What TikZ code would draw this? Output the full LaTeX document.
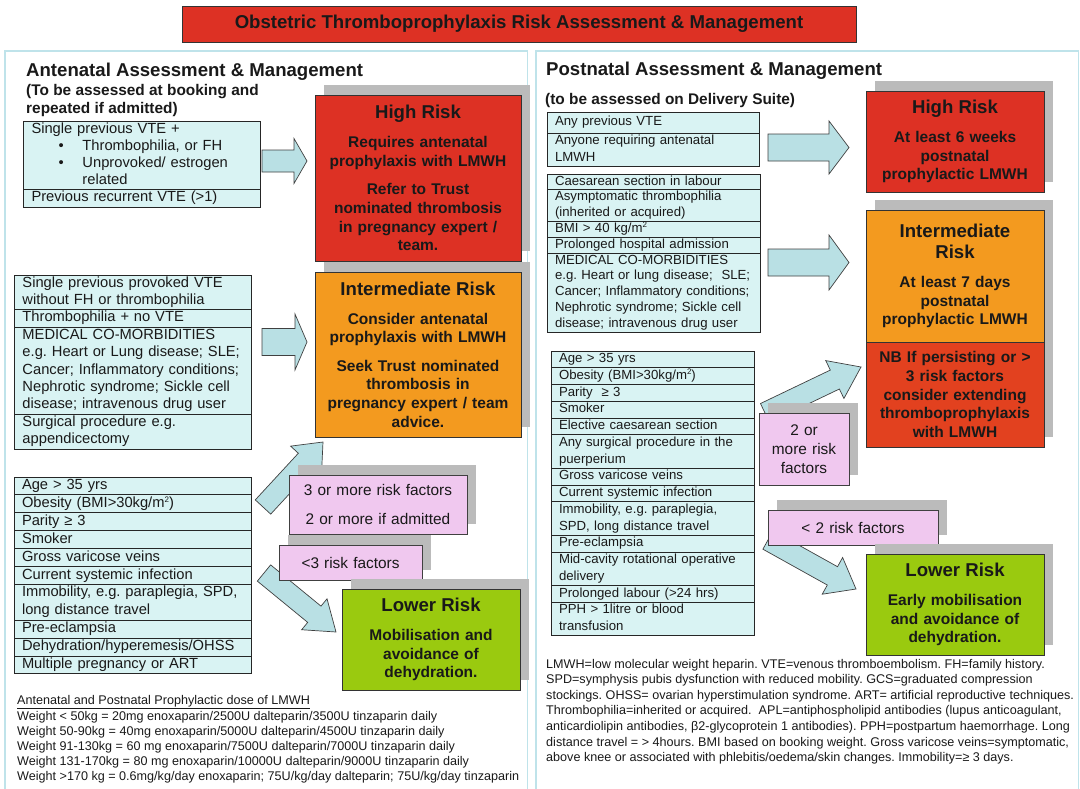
\documentclass[tikz,border=0pt]{standalone}
\usepackage{fontspec}
\setmainfont{Liberation Sans}
\usepackage{tikz}
\usetikzlibrary{positioning, calc, shadows}
\frenchspacing

\definecolor{riskred}{HTML}{DD3124}
\definecolor{riskorange}{HTML}{F39A1F}
\definecolor{nbred}{HTML}{E2411F}
\definecolor{riskgreen}{HTML}{9ACA0F}
\definecolor{pinkfill}{HTML}{F0C8EF}
\definecolor{critfill}{HTML}{D9F3F3}
\definecolor{arrowfill}{HTML}{B9E0E4}
\definecolor{panelline}{HTML}{BFE3EA}
\definecolor{shadowgray}{HTML}{BBBBBB}

% title line and paragraph gap inside the risk boxes
\newcommand{\risktitle}[1]{{\fontsize{18.6}{21}\selectfont #1\par}\vspace{10.5pt}}
\newcommand{\riskgap}{\par\vspace{9.5pt}}
\newcommand{\sqtwo}{\raisebox{4.6pt}{\fontsize{8}{8}\selectfont 2}}
% fat arrow: tail, tip, half shaft, half head, head length
\newcommand{\fatarrow}[5]{%
  \coordinate (fa-b) at ($(#2)!#5!(#1)$);
  \draw[arrowbody] ($(#1)!#3!90:(#2)$) -- ($(fa-b)!#3!90:(#2)$)
    -- ($(fa-b)!#4!90:(#2)$) -- (#2) -- ($(fa-b)!#4!-90:(#2)$)
    -- ($(fa-b)!#3!-90:(#2)$) -- ($(#1)!#3!-90:(#2)$) -- cycle;}

\begin{document}
\frenchspacing
\begin{tikzpicture}[x=1pt, y=-1pt, line join=miter,
    every node/.append style={text=black!90},
    panel/.style={draw=panelline, line width=1.2pt},
    titlebox/.style={draw=black!80, line width=0.9pt, fill=riskred, minimum width=674pt,
      minimum height=35.5pt, font=\fontsize{18.6}{22}\selectfont\bfseries},
    heading/.style={font=\fontsize{18.6}{22}\selectfont\bfseries, inner sep=0pt},
    subhead/.style={font=\fontsize{15.4}{18}\selectfont\bfseries, inner sep=0pt, align=left},
    critrow/.style={draw=black!85, line width=0.9pt, fill=critfill, outer sep=0pt,
      inner ysep=0pt, inner xsep=8pt, align=left,
      execute at begin node=\strut, execute at end node=\strut},
    leftlist/.style={critrow, text width=221pt, font=\fontsize{14.7}{#1}\selectfont},
    rightlist/.style 2 args={critrow, text width=#1, font=\fontsize{13.2}{#2}\selectfont},
    boxshadow/.style={drop shadow={shadow xshift=9pt, shadow yshift=10pt,
      fill=shadowgray, opacity=1}},
    riskbox/.style={draw=black!80, line width=0.9pt, outer sep=0pt, align=center,
      text width=#1, inner xsep=4pt, inner ysep=0pt,
      font=\fontsize{15.5}{18.7}\selectfont\bfseries, boxshadow},
    pinkbox/.style={draw=black!75, line width=0.9pt, fill=pinkfill, align=center,
      text width=#1, inner xsep=4pt, inner ysep=0pt,
      font=\fontsize{15.4}{19}\selectfont, boxshadow},
    arrowbody/.style={draw=black!75, line width=0.7pt, fill=arrowfill},
    note/.style={inner sep=0pt, align=left, anchor=north west}]

  \useasboundingbox (0,0) rectangle (1080,788);

  % Title and the two panels
  \node[titlebox] (title) at (519,24.2) {Obstetric Thromboprophylaxis Risk Assessment \& Management};
  \draw[panel] (5,51) rectangle (527.5,800);
  \draw[panel] (536,51) rectangle (1078.5,800);

  % ---------------- Antenatal ----------------
  \begin{scope}
    \node[heading, anchor=base west] (anteHead) at (26,76) {Antenatal Assessment \& Management};
    \node[subhead, anchor=north west] (anteSub) at (26,84) {(To be assessed at booking and\\repeated if admitted)};

    % high risk criteria
    \node[leftlist=17.2, anchor=north west] (a1r1) at (23.5,121) {Single previous VTE +\\
      \hspace*{27pt}\makebox[24pt][l]{\textbullet}Thrombophilia, or FH\\
      \hspace*{27pt}\makebox[24pt][l]{\textbullet}Unprovoked/ estrogen\\
      \hspace*{51pt}related};
    \node[leftlist=17.2, below=0pt of a1r1] (a1r2) {Previous recurrent VTE (>1)};

    % intermediate risk criteria
    \node[leftlist=17.4, anchor=north west] (a2r1) at (14.5,275) {Single previous provoked VTE\\without FH or thrombophilia};
    \node[leftlist=17.4, below=0pt of a2r1] (a2r2) {Thrombophilia + no VTE};
    \node[leftlist=17.4, below=0pt of a2r2] (a2r3) {MEDICAL CO-MORBIDITIES\\e.g. Heart or Lung disease; SLE;\\Cancer; Inflammatory conditions;\\Nephrotic syndrome; Sickle cell\\disease; intravenous drug user};
    \node[leftlist=17.4, below=0pt of a2r3] (a2r4) {Surgical procedure e.g.\\appendicectomy};

    % risk factors
    \node[leftlist=17.9, anchor=north west] (a3r1) at (14,477) {Age > 35 yrs};
    \node[leftlist=17.9, below=0pt of a3r1] (a3r2) {Obesity (BMI>30kg/m\sqtwo)};
    \node[leftlist=17.9, below=0pt of a3r2] (a3r3) {Parity ≥ 3};
    \node[leftlist=17.9, below=0pt of a3r3] (a3r4) {Smoker};
    \node[leftlist=17.9, below=0pt of a3r4] (a3r5) {Gross varicose veins};
    \node[leftlist=17.9, below=0pt of a3r5] (a3r6) {Current systemic infection};
    \node[leftlist=17.9, below=0pt of a3r6] (a3r7) {Immobility, e.g. paraplegia, SPD,\\long distance travel};
    \node[leftlist=17.9, below=0pt of a3r7] (a3r8) {Pre-eclampsia};
    \node[leftlist=17.9, below=0pt of a3r8] (a3r9) {Dehydration/hyperemesis/OHSS};
    \node[leftlist=17.9, below=0pt of a3r9] (a3r10) {Multiple pregnancy or ART};

    % arrows
    \coordinate (a1Tail) at (262,161);
    \coordinate (a1Tip) at (307,161);
    \fatarrow{a1Tail}{a1Tip}{11pt}{22.5pt}{13pt}
    \coordinate (a2Tail) at (262,342);
    \coordinate (a2Tip) at (307,342);
    \fatarrow{a2Tail}{a2Tip}{13.5pt}{28pt}{12pt}
    \coordinate (upTail) at (263,507);
    \coordinate (upTip) at (323,442);
    \fatarrow{upTail}{upTip}{10.5pt}{21pt}{25pt}
    \coordinate (downTail) at (264,573);
    \coordinate (downTip) at (336,632);
    \fatarrow{downTail}{downTip}{10.5pt}{20pt}{28pt}

    % counts
    \node[pinkbox=170pt, minimum height=59pt] (aMore) at (378,504.5) {3 or more risk factors\\[10pt]2 or more if admitted};
    \node[pinkbox=135pt, minimum height=35pt] (aLess) at (350.5,562.5) {<3 risk factors};

    % risk boxes
    \node[riskbox=198pt, fill=riskred, minimum height=166pt] (aHigh) at (418,178)
      {\risktitle{High Risk}Requires antenatal\\prophylaxis with LMWH\riskgap Refer to Trust\\nominated thrombosis\\in pregnancy expert /\\team.};
    \node[riskbox=198pt, fill=riskorange, minimum height=165pt] (aInter) at (418,354.5)
      {\risktitle{Intermediate Risk}Consider antenatal\\prophylaxis with LMWH\riskgap Seek Trust nominated\\thrombosis in\\pregnancy expert / team\\advice.};
    \node[riskbox=170pt, fill=riskgreen, minimum height=101pt] (aLow) at (431,639.5)
      {\risktitle{Lower Risk}Mobilisation and\\avoidance of\\dehydration.};

    % doses
    \node[note, font=\fontsize{12.6}{15.1}\selectfont] (dose) at (17,695) {\underline{Antenatal and Postnatal Prophylactic dose of LMWH}\\[0.9pt]
      Weight < 50kg = 20mg enoxaparin/2500U dalteparin/3500U tinzaparin daily\\
      Weight 50-90kg = 40mg enoxaparin/5000U dalteparin/4500U tinzaparin daily\\
      Weight 91-130kg = 60 mg enoxaparin/7500U dalteparin/7000U tinzaparin daily\\
      Weight 131-170kg = 80 mg enoxaparin/10000U dalteparin/9000U tinzaparin daily\\
      Weight >170 kg = 0.6mg/kg/day enoxaparin; 75U/kg/day dalteparin; 75U/kg/day tinzaparin};
  \end{scope}

  % ---------------- Postnatal ----------------
  \begin{scope}
    \node[heading, anchor=base west] (postHead) at (546,75) {Postnatal Assessment \& Management};
    \node[subhead, anchor=base west] (postSub) at (545,104) {(to be assessed on Delivery Suite)};

    % high risk criteria
    \node[rightlist={196pt}{16.5}, minimum height=21pt, anchor=north west] (p1r1) at (547,112) {Any previous VTE};
    \node[rightlist={196pt}{16.5}, below=0pt of p1r1] (p1r2) {Anyone requiring antenatal\\LMWH};

    % intermediate risk criteria
    \node[rightlist={197pt}{15.8}, anchor=north west] (p2r1) at (547,174) {Caesarean section in labour};
    \node[rightlist={197pt}{15.8}, below=0pt of p2r1] (p2r2) {Asymptomatic thrombophilia\\(inherited or acquired)};
    \node[rightlist={197pt}{15.8}, below=0pt of p2r2] (p2r3) {BMI > 40 kg/m\sqtwo};
    \node[rightlist={197pt}{15.8}, below=0pt of p2r3] (p2r4) {Prolonged hospital admission};
    \node[rightlist={197pt}{15.8}, below=0pt of p2r4] (p2r5) {MEDICAL CO-MORBIDITIES\\e.g. Heart or lung disease;\ \ SLE;\\Cancer; Inflammatory conditions;\\Nephrotic syndrome; Sickle cell\\disease; intravenous drug user};

    % risk factors
    \node[rightlist={187pt}{16.75}, anchor=north west] (p3r1) at (551,351) {Age > 35 yrs};
    \node[rightlist={187pt}{16.75}, below=0pt of p3r1] (p3r2) {Obesity (BMI>30kg/m\sqtwo)};
    \node[rightlist={187pt}{16.75}, below=0pt of p3r2] (p3r3) {Parity\ \ ≥ 3};
    \node[rightlist={187pt}{16.75}, below=0pt of p3r3] (p3r4) {Smoker};
    \node[rightlist={187pt}{16.75}, below=0pt of p3r4] (p3r5) {Elective caesarean section};
    \node[rightlist={187pt}{16.75}, below=0pt of p3r5] (p3r6) {Any surgical procedure in the\\puerperium};
    \node[rightlist={187pt}{16.75}, below=0pt of p3r6] (p3r7) {Gross varicose veins};
    \node[rightlist={187pt}{16.75}, below=0pt of p3r7] (p3r8) {Current systemic infection};
    \node[rightlist={187pt}{16.75}, below=0pt of p3r8] (p3r9) {Immobility, e.g. paraplegia,\\SPD, long distance travel};
    \node[rightlist={187pt}{16.75}, below=0pt of p3r9] (p3r10) {Pre-eclampsia};
    \node[rightlist={187pt}{16.75}, below=0pt of p3r10] (p3r11) {Mid-cavity rotational operative\\delivery};
    \node[rightlist={187pt}{16.75}, below=0pt of p3r11] (p3r12) {Prolonged labour (>24 hrs)};
    \node[rightlist={187pt}{16.75}, below=0pt of p3r12] (p3r13) {PPH > 1litre or blood\\transfusion};

    % arrows
    \coordinate (p1Tail) at (768,147.5);
    \coordinate (p1Tip) at (849,147.5);
    \fatarrow{p1Tail}{p1Tip}{13.5pt}{26.5pt}{20pt}
    \coordinate (p2Tail) at (768,262.5);
    \coordinate (p2Tip) at (849,262.5);
    \fatarrow{p2Tail}{p2Tip}{13.5pt}{27.5pt}{20pt}
    \coordinate (pUpTail) at (765,413);
    \coordinate (pUpTip) at (861,367);
    \fatarrow{pUpTail}{pUpTip}{10.5pt}{21pt}{29pt}
    \coordinate (pDownTail) at (768,540);
    \coordinate (pDownTip) at (856,589);
    \fatarrow{pDownTail}{pDownTip}{10.5pt}{21pt}{27pt}

    % counts
    \node[pinkbox=82pt, minimum height=72pt] (pMore) at (804,449) {2 or\\more risk\\factors};
    \node[pinkbox=162pt, minimum height=35pt] (pLess) at (853,527.5) {< 2 risk factors};

    % risk boxes
    \node[riskbox=170pt, fill=riskred, minimum height=101pt] (pHigh) at (955,141.5)
      {\risktitle{High Risk}At least 6 weeks\\postnatal\\prophylactic LMWH};
    \node[riskbox=170pt, fill=nbred, minimum height=105pt] (pNB) at (955,394.5)
      {NB If persisting or >\\3 risk factors\\consider extending\\thromboprophylaxis\\with LMWH};
    \node[riskbox=170pt, fill=riskorange, minimum height=132pt, above=0pt of pNB] (pInter)
      {\risktitle{Intermediate\\Risk}At least 7 days\\postnatal\\prophylactic LMWH};
    \node[riskbox=170pt, fill=riskgreen, minimum height=101pt] (pLow) at (955,604.5)
      {\risktitle{Lower Risk}Early mobilisation\\and avoidance of\\dehydration.};

    % abbreviations
    \node[note, font=\fontsize{12.6}{15.55}\selectfont] (abbrev) at (546,659) {LMWH=low molecular weight heparin. VTE=venous thromboembolism. FH=family history.\\
      SPD=symphysis pubis dysfunction with reduced mobility. GCS=graduated compression\\
      stockings. OHSS= ovarian hyperstimulation syndrome. ART= artificial reproductive techniques.\\
      Thrombophilia=inherited or acquired.\ \ APL=antiphospholipid antibodies (lupus anticoagulant,\\
      anticardiolipin antibodies, β2-glycoprotein 1 antibodies). PPH=postpartum haemorrhage. Long\\
      distance travel = > 4hours. BMI based on booking weight. Gross varicose veins=symptomatic,\\
      above knee or associated with phlebitis/oedema/skin changes. Immobility=≥ 3 days.};
  \end{scope}
\end{tikzpicture}
\end{document}
